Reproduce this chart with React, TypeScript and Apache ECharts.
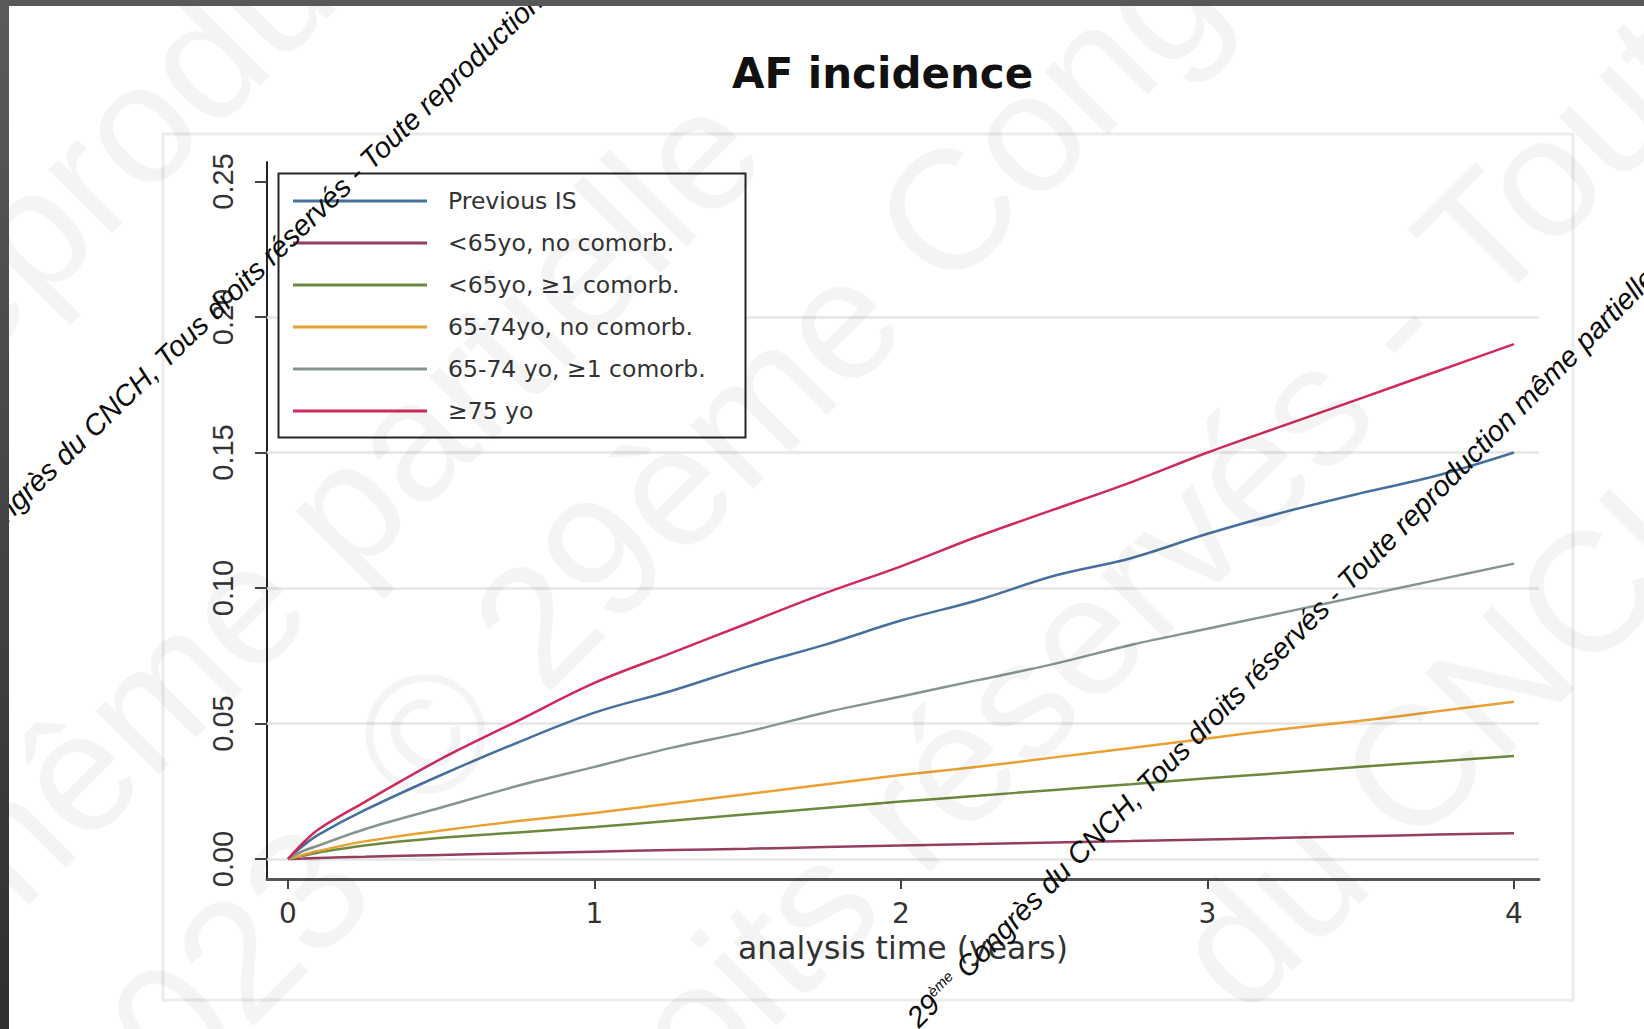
import React, { useEffect, useRef } from "react";
import * as echarts from "echarts";

// Follow-up time (years) at which the cumulative incidence is read
const years = [0, 0.05, 0.1, 0.25, 0.5, 0.75, 1, 1.25, 1.5, 1.75, 2, 2.25, 2.5, 2.75, 3, 3.25, 3.5, 3.75, 4];

// Cumulative AF incidence per group
const previousIS = [0, 0.005, 0.009, 0.018, 0.031, 0.043, 0.054, 0.062, 0.071, 0.079, 0.088, 0.0955, 0.1045, 0.111, 0.12, 0.128, 0.135, 0.1415, 0.15];
const under65NoComorb = [0, 0.0002, 0.0004, 0.0008, 0.0015, 0.0021, 0.0027, 0.0033, 0.0038, 0.0044, 0.005, 0.0055, 0.0061, 0.0066, 0.0072, 0.0078, 0.0084, 0.009, 0.0095];
const under65Comorb = [0, 0.0012, 0.0024, 0.005, 0.0078, 0.0098, 0.0118, 0.0141, 0.0165, 0.0188, 0.0212, 0.0233, 0.0255, 0.0276, 0.0298, 0.0318, 0.034, 0.036, 0.038];
const age65to74NoComorb = [0, 0.0015, 0.003, 0.0065, 0.0105, 0.014, 0.017, 0.0205, 0.024, 0.0275, 0.031, 0.034, 0.0375, 0.041, 0.0445, 0.048, 0.051, 0.0545, 0.058];
const age65to74Comorb = [0, 0.003, 0.005, 0.011, 0.019, 0.027, 0.034, 0.041, 0.047, 0.054, 0.06, 0.066, 0.072, 0.079, 0.085, 0.091, 0.097, 0.103, 0.109];
const age75Plus = [0, 0.006, 0.011, 0.021, 0.037, 0.051, 0.065, 0.076, 0.087, 0.098, 0.108, 0.119, 0.129, 0.139, 0.15, 0.16, 0.17, 0.18, 0.19];

const groupNames = [
  "Previous IS",
  "<65yo, no comorb.",
  "<65yo, \u22651 comorb.",
  "65-74yo, no comorb.",
  "65-74 yo, \u22651 comorb.",
  "\u226575 yo",
];
const groupValues = [previousIS, under65NoComorb, under65Comorb, age65to74NoComorb, age65to74Comorb, age75Plus];
const groupColors = ["#46709e", "#963d62", "#6a8a3e", "#e9a135", "#84968f", "#d02a5a"];

const xTicks = [0, 1, 2, 3, 4];
const yTicks = [0, 0.05, 0.1, 0.15, 0.2, 0.25];
const yGridValues = [0, 0.05, 0.1, 0.15, 0.2];

const titleText = "AF incidence";
const xAxisName = "analysis time (years)";

// Copyright overlay lines
const noticeText = "29{sup|\u00e8me} Congr\u00e8s du CNCH, Tous droits r\u00e9serv\u00e9s - Toute reproduction m\u00eame partielle interdite";
const faintWords = [
  "Toute reproduction",
  "m\u00eame partielle",
  "\u00a9 29\u00e8me Congr\u00e8s - Tous",
  "droits r\u00e9serv\u00e9s - Toute",
  "du CNCH",
  "2023",
];
const faintAnchors = [
  [-439, 701],
  [-58, 908],
  [381, 778],
  [553, 1166],
  [1202, 978],
  [72, 1124],
];

function buildOption() {
  const series = groupNames.map((name, i) => {
    const s: any = {
      name,
      type: "line",
      data: years.map((t, k) => [t, groupValues[i][k]]),
      symbol: "none",
      showSymbol: false,
      smooth: 0.35,
      silent: true,
      z: 3,
      lineStyle: { color: groupColors[i], width: 2.5 },
      itemStyle: { color: groupColors[i] },
    };
    if (i === 0) {
      s.markLine = {
        silent: true,
        z: 1,
        symbol: ["none", "none"],
        label: { show: false },
        emphasis: { disabled: true },
        lineStyle: { color: "#e6e6e6", width: 2.5, type: "solid" },
        data: yGridValues.map((v) => ({ yAxis: v })),
      };
    }
    return s;
  });

  const graphic: any[] = [
    // outer plot-region frame
    {
      type: "rect",
      z: 0,
      silent: true,
      shape: { x: 163, y: 134, width: 1410, height: 866 },
      style: { fill: "none", stroke: "#ececec", lineWidth: 3 },
    },
    // legend frame
    {
      type: "rect",
      z: 3,
      silent: true,
      shape: { x: 278.5, y: 173.5, width: 467, height: 264 },
      style: { fill: "#ffffff", stroke: "#262626", lineWidth: 2 },
    },
    // dark page edges
    {
      type: "rect",
      z: 80,
      silent: true,
      shape: { x: 0, y: 0, width: 1644, height: 6 },
      style: { fill: "#585858" },
    },
    {
      type: "rect",
      z: 80,
      silent: true,
      shape: { x: 0, y: 0, width: 9, height: 1029 },
      style: {
        fill: new echarts.graphic.LinearGradient(0, 0, 0, 1, [
          { offset: 0, color: "#5a5a5a" },
          { offset: 1, color: "#2f2f2f" },
        ]),
      },
    },
  ];

  faintWords.forEach((w, i) => {
    graphic.push({
      type: "text",
      z: 50,
      silent: true,
      x: faintAnchors[i][0],
      y: faintAnchors[i][1],
      rotation: Math.PI / 4,
      style: {
        text: w,
        fontFamily: "Liberation Sans",
        fontSize: 170,
        fill: "rgba(0,0,0,0.042)",
        align: "left",
        verticalAlign: "middle",
      },
    });
  });

  const noticeLines = [
    { x: -76, y: 590, angle: 44 },
    { x: 912, y: 1022, angle: 45.4 },
  ];
  noticeLines.forEach((l) => {
    graphic.push({
      type: "text",
      z: 60,
      silent: true,
      x: l.x,
      y: l.y,
      rotation: (l.angle * Math.PI) / 180,
      style: {
        text: noticeText,
        fontFamily: "Liberation Sans",
        fontStyle: "italic",
        fontSize: 29,
        fill: "#0a0a0a",
        align: "left",
        verticalAlign: "middle",
        rich: {
          sup: {
            fontFamily: "Liberation Sans",
            fontStyle: "italic",
            fontSize: 15,
            fill: "#0a0a0a",
            verticalAlign: "top",
          },
        },
      },
    });
  });

  return {
    animation: false,
    backgroundColor: "#ffffff",
    title: {
      text: titleText,
      left: 727,
      top: 47,
      textStyle: {
        fontFamily: "DejaVu Sans",
        fontWeight: "bold",
        fontSize: 42,
        lineHeight: 42,
        color: "#111111",
      },
    },
    legend: {
      orient: "vertical",
      left: 278,
      top: 173,
      z: 4,
      padding: [13, 20, 11, 15],
      icon: "rect",
      itemWidth: 134,
      itemHeight: 3,
      itemGap: 12,
      selectedMode: false,
      data: groupNames,
      textStyle: {
        fontFamily: "DejaVu Sans",
        fontSize: 23.5,
        lineHeight: 30,
        color: "#333333",
        padding: [0, 0, 0, 16],
      },
    },
    grid: { left: 267, top: 162, width: 1272, height: 717, containLabel: false },
    xAxis: {
      type: "value",
      min: -0.0685,
      max: 4.0816,
      name: xAxisName,
      nameLocation: "middle",
      nameGap: 42,
      nameTextStyle: { fontFamily: "DejaVu Sans", fontSize: 31.5, color: "#333333" },
      axisLine: { show: true, onZero: false, lineStyle: { color: "#555555", width: 3 } },
      axisTick: { show: true, customValues: xTicks, length: 10, lineStyle: { color: "#444444", width: 2 } },
      axisLabel: {
        customValues: xTicks,
        fontFamily: "DejaVu Sans",
        fontSize: 28,
        color: "#333333",
        margin: 20,
      },
      splitLine: { show: false },
    },
    yAxis: {
      type: "value",
      min: -0.00738,
      max: 0.2572,
      axisLine: { show: true, onZero: false, lineStyle: { color: "#222222", width: 2 } },
      axisTick: { show: true, customValues: yTicks, length: 12, lineStyle: { color: "#444444", width: 2 } },
      axisLabel: {
        customValues: yTicks,
        rotate: 90,
        formatter: (v: number) => v.toFixed(2),
        fontFamily: "Liberation Sans",
        fontSize: 29,
        color: "#333333",
        margin: 30,
      },
      splitLine: { show: false },
    },
    series,
    graphic,
  };
}

export default function App() {
  const ref = useRef<HTMLDivElement>(null);
  useEffect(() => {
    if (!ref.current) return;
    const chart = echarts.init(ref.current, null, { renderer: "svg" });
    chart.setOption(buildOption() as any);
    return () => chart.dispose();
  }, []);
  return (
    <div
      ref={ref}
      style={{ position: "fixed", left: 0, top: 0, width: 1644, height: 1029, background: "#ffffff" }}
    />
  );
}
